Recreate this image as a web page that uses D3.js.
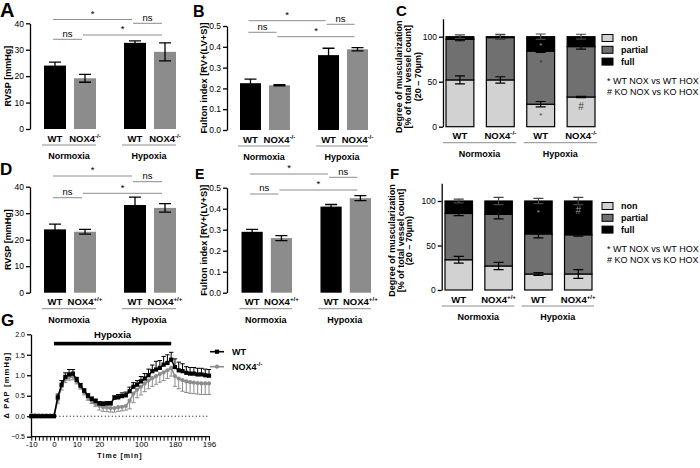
<!DOCTYPE html>
<html>
<head>
<meta charset="utf-8">
<script src="https://cdn.jsdelivr.net/npm/d3@7"></script>
<style>
  body { margin: 0; background: #fff; }
  svg { font-family: 'Liberation Sans', Arial, sans-serif; }
</style>
</head>
<body>
<svg id="fig" width="700" height="468"></svg>
<script>
// ---- data ----
const conditions = ['Normoxia', 'Hypoxia'];
const genotypes = ['WT', 'NOX4'];
const supRow1 = '-/-';
const supRow2 = '+/+';

// bar values are ordered: WT norm, NOX4 norm, WT hyp, NOX4 hyp
const rvspA = [24.0, 19.2, 32.6, 29.2];
const rvspAErr = [1.3, 1.5, 0.75, 3.4];
const fultonB = [0.225, 0.215, 0.36, 0.388];
const fultonBErr = [0.02, 0.003, 0.033, 0.008];
const rvspD = [23.9, 23.0, 33.1, 32.0];
const rvspDErr = [2.0, 0.9, 3.0, 1.6];
const fultonE = [0.29, 0.26, 0.41, 0.45];
const fultonEErr = [0.012, 0.012, 0.01, 0.012];

// comparisons: [bar a, bar b, label]
const sigPairs = [[0, 2, '*'], [2, 3, 'ns'], [0, 1, 'ns'], [1, 3, '*']];

const muscClasses = ['non', 'partial', 'full'];
const muscNonC = [52, 52, 25, 33];
const muscNonCErr = [4.5, 3.5, 3, 0.8];
const muscPartialC = [45, 47, 59, 56];
const muscPartialCErr = [1.5, 1.5, 1.5, 2.7];
const muscFullC = [3, 1, 16, 11];
const muscFullCErr = [2, 2.5, 3, 2.7];
const markersC = [[2, 'full', '*'], [2, 'partial', '*'], [2, 'non', '*'], [3, 'non', '#']];

const muscNonF = [34, 27, 18, 18];
const muscNonFErr = [3.7, 4, 1.5, 5];
const muscPartialF = [52, 58, 45, 44];
const muscPartialFErr = [2.5, 5, 4.5, 1.5];
const muscFullF = [14, 15, 37, 38];
const muscFullFErr = [2, 4, 3, 4];
const markersF = [[2, 'full', '*'], [3, 'full', '#']];

const noteLines = ['* WT NOX vs WT HOX', '# KO NOX vs KO HOX'];

// panel G: time course, one entry per sample point
const timeLabels = {0: '-10', 6: '0', 12: '10', 18: '20', 29: '100', 38: '180', 47: '196'};
const hypoxiaStart = 6, hypoxiaEnd = 37;
const wtPAP = [0, 0, 0, 0, 0, 0, 0,
  0.46, 0.77, 0.96, 1.02, 1.04, 0.89, 0.75, 0.62, 0.5, 0.42,
  0.37, 0.31, 0.3, 0.31, 0.31, 0.45, 0.46, 0.49, 0.51, 0.61,
  0.72, 0.77, 0.85, 0.92, 1.0, 1.1, 1.14, 1.18, 1.26, 1.3,
  1.38, 1.2, 1.12, 1.1, 1.06, 1.04, 1.04, 1.02, 1.02, 1.0, 0.99];
const wtPAPErr = [0.02, 0.02, 0.02, 0.02, 0.02, 0.02, 0.02,
  0.08, 0.1, 0.1, 0.12, 0.1, 0.06, 0.05, 0.05, 0.05, 0.05,
  0.05, 0.05, 0.05, 0.05, 0.05, 0.05, 0.07, 0.08, 0.08, 0.1,
  0.1, 0.1, 0.12, 0.12, 0.15, 0.15, 0.2, 0.18, 0.2, 0.2,
  0.18, 0.2, 0.2, 0.18, 0.15, 0.15, 0.15, 0.15, 0.15, 0.15, 0.15];
const noxPAP = [0.03, 0.03, 0.02, 0.02, 0.02, 0.02, 0.02,
  0.4, 0.72, 0.9, 0.96, 0.97, 0.85, 0.72, 0.58, 0.45, 0.37,
  0.3, 0.25, 0.22, 0.21, 0.2, 0.2, 0.22, 0.23, 0.25, 0.38,
  0.55, 0.65, 0.72, 0.8, 0.87, 0.93, 0.98, 1.03, 1.07, 1.12,
  1.18, 0.98, 0.92, 0.88, 0.85, 0.83, 0.82, 0.81, 0.8, 0.8, 0.8];
const noxPAPErr = [0.04, 0.04, 0.04, 0.04, 0.04, 0.04, 0.04,
  0.08, 0.08, 0.08, 0.08, 0.08, 0.06, 0.06, 0.06, 0.06, 0.06,
  0.06, 0.1, 0.1, 0.1, 0.1, 0.1, 0.1, 0.1, 0.1, 0.2,
  0.22, 0.2, 0.2, 0.2, 0.2, 0.2, 0.2, 0.2, 0.2, 0.2,
  0.2, 0.25, 0.25, 0.27, 0.27, 0.27, 0.27, 0.27, 0.27, 0.27, 0.27];

// ---- drawing ----
const svg = d3.select('#fig');
svg.append('rect').attr('width', 700).attr('height', 468).attr('fill', '#fff');

const GREY = '#8c8c8c';

// text with optional superscript
function label(g, x, y, main, sup, size, bold) {
  const t = g.append('text').attr('x', x).attr('y', y)
    .attr('text-anchor', 'middle').attr('font-size', size)
    .attr('font-weight', bold ? 'bold' : 'normal');
  t.append('tspan').text(main);
  if (sup) t.append('tspan').attr('font-size', size * 0.65).attr('dy', -size * 0.4).text(sup);
  return t;
}

function panelLetter(x, y, ch, size) {
  svg.append('text').attr('x', x).attr('y', y).attr('font-size', size)
    .attr('font-weight', 'bold').text(ch);
}

function styleAxis(sel, size) {
  sel.select('.domain').attr('stroke', '#000').attr('stroke-width', 1.3);
  sel.selectAll('.tick line').attr('stroke', '#000').attr('stroke-width', 1.3);
  sel.selectAll('.tick text').attr('font-size', size).attr('fill', '#000')
    .attr('font-family', "'Liberation Sans', Arial, sans-serif");
}

function barPanel(p) {
  const g = svg.append('g');
  const y = d3.scaleLinear().domain(p.domain).range([p.base, p.top]);
  const xg = d3.scaleBand().domain(conditions).range(p.xr).paddingInner(p.gap);
  const xb = d3.scaleBand().domain(genotypes).range([0, xg.bandwidth()]).paddingInner(p.pad);
  const rows = [];
  conditions.forEach((c, i) => genotypes.forEach((k, j) => {
    const n = i * 2 + j;
    rows.push({ c, k, v: p.values[n], e: p.errs[n], x: xg(c) + xb(k) });
  }));
  const cx = d => d.x + xb.bandwidth() / 2;

  g.selectAll('rect.bar').data(rows).join('rect').attr('class', 'bar')
    .attr('x', d => d.x).attr('width', xb.bandwidth())
    .attr('y', d => y(d.v)).attr('height', d => y(0) - y(d.v))
    .attr('fill', d => d.k === 'WT' ? '#000' : GREY);

  const cap = 6;
  g.selectAll('path.err').data(rows).join('path').attr('class', 'err')
    .attr('d', d => `M${cx(d)},${y(d.v - d.e)}V${y(d.v + d.e)}` +
      `M${cx(d) - cap},${y(d.v + d.e)}h${2 * cap}M${cx(d) - cap},${y(d.v - d.e)}h${2 * cap}`)
    .attr('stroke', '#000').attr('stroke-width', 1.3).attr('fill', 'none');

  const ax = g.append('g').attr('transform', `translate(${p.ax},0)`)
    .call(d3.axisLeft(y).ticks(p.ticks).tickFormat(d3.format(p.fmt)).tickSize(4).tickSizeOuter(0).tickPadding(2));
  styleAxis(ax, 8.5);

  g.append('text')
    .attr('transform', `translate(${p.titleX},${(p.base + p.top) / 2}) rotate(-90)`)
    .attr('text-anchor', 'middle').attr('font-size', p.titleSize).attr('font-weight', 'bold')
    .text(p.title);

  rows.forEach(d => label(g, cx(d), p.base + 12.5, d.k, d.k === 'WT' ? '' : p.sup, 9.5, true));
  conditions.forEach(c => {
    g.append('line').attr('x1', xg(c) - 2).attr('x2', xg(c) + xg.bandwidth())
      .attr('y1', p.base + 16).attr('y2', p.base + 16).attr('stroke', GREY).attr('stroke-width', 1);
    label(g, xg(c) + xg.bandwidth() / 2 - 1, p.base + 30, c, '', 9, true);
  });

  sigPairs.forEach(([a, b, t], i) => {
    const x1 = cx(rows[a]) - 2, x2 = cx(rows[b]) - 3, ly = p.sigY[i];
    g.append('line').attr('x1', x1).attr('x2', x2).attr('y1', ly).attr('y2', ly)
      .attr('stroke', GREY).attr('stroke-width', 1);
    g.append('text').attr('x', (x1 + x2) / 2).attr('y', ly - 2.7)
      .attr('text-anchor', 'middle').attr('font-size', 9.5).text(t);
  });
}

function stackPanel(p) {
  const g = svg.append('g');
  const y = d3.scaleLinear().domain([0, 120]).range([p.base, p.top]);
  const bars = d3.range(4);
  const x = d3.scaleBand().domain(bars).range(p.xr).paddingInner(0.31);
  const table = bars.map(i => ({
    i, non: p.non[i], partial: p.partial[i], full: p.full[i],
    err: { non: p.nonErr[i], partial: p.partialErr[i], full: p.fullErr[i] }
  }));
  const stack = d3.stack().keys(muscClasses)(table);
  const fills = { non: '#d2d2d2', partial: '#707070', full: '#000' };

  stack.forEach(layer => {
    g.selectAll(null).data(layer).join('rect')
      .attr('x', d => x(d.data.i)).attr('width', x.bandwidth())
      .attr('y', d => y(d[1])).attr('height', d => y(d[0]) - y(d[1]))
      .attr('fill', fills[layer.key]).attr('stroke', '#000').attr('stroke-width', 1.2);
  });
  const cap = 5;
  stack.forEach(layer => {
    g.selectAll(null).data(layer).join('path')
      .attr('d', d => {
        const c = x(d.data.i) + x.bandwidth() / 2, e = d.data.err[layer.key];
        return `M${c},${y(d[1] - e)}V${y(d[1] + e)}M${c - cap},${y(d[1] + e)}h${2 * cap}M${c - cap},${y(d[1] - e)}h${2 * cap}`;
      })
      .attr('stroke', layer.key === 'full' ? '#444' : '#000').attr('stroke-width', 1.2).attr('fill', 'none');
  });
  p.markers.forEach(([i, key, sym]) => {
    const layer = stack[muscClasses.indexOf(key)];
    const d = layer[i];
    const h = y(d[0]) - y(d[1]);
    g.append('text').attr('x', x(i) + x.bandwidth() / 2)
      .attr('y', y(d[1]) + Math.min(10, h / 2) + (sym === '*' ? 4 : 3))
      .attr('text-anchor', 'middle').attr('font-size', sym === '*' ? 8 : 10)
      .attr('fill', key === 'full' ? '#999' : (key === 'partial' ? '#333' : '#444')).text(sym);
  });

  const ax = g.append('g').attr('transform', `translate(${p.ax},0)`)
    .call(d3.axisLeft(y).tickValues([0, 50, 100]).tickSize(4).tickSizeOuter(0).tickPadding(2));
  styleAxis(ax, 8.5);

  ['Degree of muscularization', '[% of total vessel count]', '(20 \u2013 70\u00b5m)'].forEach((t, k) => {
    g.append('text')
      .attr('transform', `translate(${p.titleX + k * p.titleGap},${(p.base + p.top) / 2 + 4}) rotate(-90)`)
      .attr('text-anchor', 'middle').attr('font-size', 9).attr('font-weight', 'bold').text(t);
  });

  bars.forEach(i => label(g, x(i) + x.bandwidth() / 2, p.base + 12.5, genotypes[i % 2], i % 2 ? p.sup : '', 9.5, true));
  conditions.forEach((c, k) => {
    const x1 = x(2 * k) - 3, x2 = x(2 * k + 1) + x.bandwidth() + 2;
    g.append('line').attr('x1', x1).attr('x2', x2).attr('y1', p.base + 16).attr('y2', p.base + 16)
      .attr('stroke', GREY).attr('stroke-width', 1);
    label(g, (x1 + x2) / 2, p.base + 30, c, '', 9, true);
  });

  // legend
  muscClasses.forEach((k, j) => {
    const ly = p.legY + j * 11.8;
    g.append('rect').attr('x', p.legX).attr('y', ly - 3.5).attr('width', 11).attr('height', 7)
      .attr('fill', fills[k]).attr('stroke', '#000').attr('stroke-width', 1);
    g.append('text').attr('x', p.legX + 19).attr('y', ly + 3.3).attr('font-size', 9)
      .attr('font-weight', 'bold').text(k);
  });
  noteLines.forEach((t, j) => {
    g.append('text').attr('x', p.legX + 5).attr('y', p.legY + 46 + j * 11.2)
      .attr('font-size', 9).text(t);
  });
}

// ---- row 1 ----
panelLetter(0, 17, 'A', 20);
barPanel({ values: rvspA, errs: rvspAErr, domain: [0, 40], base: 129, top: 23.3, ticks: 4, fmt: 'd',
  xr: [44, 176], gap: 0.35, pad: 0.267, ax: 30, titleX: 10.5, titleSize: 9, title: 'RVSP [mmHg]', sup: supRow1,
  sigY: [19.5, 23.3, 39.3, 35] });

panelLetter(193, 17, 'B', 16);
barPanel({ values: fultonB, errs: fultonBErr, domain: [0, 0.5], base: 130, top: 26, ticks: 5, fmt: '.1f',
  xr: [240, 368], gap: 0.36, pad: 0.276, ax: 227, titleX: 206.5, titleSize: 9.3, title: 'Fulton index  [RV+(LV+S)]', sup: supRow1,
  sigY: [20.7, 24.3, 32.3, 36.7] });

panelLetter(396, 16, 'C', 15);
stackPanel({ non: muscNonC, nonErr: muscNonCErr, partial: muscPartialC, partialErr: muscPartialCErr,
  full: muscFullC, fullErr: muscFullCErr, markers: markersC, base: 126.7, top: 18.7,
  xr: [446, 595], ax: 443, titleX: 401.5, titleGap: 9.8, sup: supRow1, legX: 602, legY: 38 });

// ---- row 2 ----
panelLetter(0, 175, 'D', 17);
barPanel({ values: rvspD, errs: rvspDErr, domain: [0, 40], base: 292.7, top: 186.7, ticks: 4, fmt: 'd',
  xr: [44, 176], gap: 0.35, pad: 0.267, ax: 30, titleX: 10.5, titleSize: 9, title: 'RVSP [mmHg]', sup: supRow2,
  sigY: [176, 181.7, 197.7, 193.3] });

panelLetter(195, 179, 'E', 14);
barPanel({ values: fultonE, errs: fultonEErr, domain: [0, 0.5], base: 292.7, top: 187.7, ticks: 5, fmt: '.1f',
  xr: [241.5, 371], gap: 0.36, pad: 0.276, ax: 227, titleX: 206.5, titleSize: 9.3, title: 'Fulton index [RV+(LV+S)]', sup: supRow2,
  sigY: [174, 177.3, 194, 190] });

panelLetter(390, 179, 'F', 15);
stackPanel({ non: muscNonF, nonErr: muscNonFErr, partial: muscPartialF, partialErr: muscPartialFErr,
  full: muscFullF, fullErr: muscFullFErr, markers: markersF, base: 290, top: 183.2,
  xr: [445, 592], ax: 441.7, titleX: 395, titleGap: 8.6, sup: supRow2, legX: 602, legY: 206 });

// ---- panel G ----
panelLetter(1, 326, 'G', 17);
(function timePanel() {
  const g = svg.append('g');
  const idx = d3.range(wtPAP.length);
  const x = d3.scalePoint().domain(idx).range([31.3, 209]);
  const y = d3.scaleLinear().domain([-0.5, 2.0]).range([436.7, 334.3]);

  const ay = g.append('g').attr('transform', 'translate(31,0)')
    .call(d3.axisLeft(y).tickValues([-0.5, 0, 0.5, 1.0, 1.5, 2.0]).tickFormat(d3.format('.1f'))
      .tickSize(4).tickSizeOuter(0).tickPadding(2));
  styleAxis(ay, 7);
  const axx = g.append('g').attr('transform', `translate(0,${y(-0.5)})`)
    .call(d3.axisBottom(x).tickValues(idx).tickFormat(i => timeLabels[i] || '')
      .tickSize(4).tickSizeOuter(0).tickPadding(1));
  styleAxis(axx, 8);
  axx.selectAll('.tick line').attr('stroke-width', 1);
  axx.select('.domain').attr('d', `M31,0H${x(idx[idx.length - 1]) + 1}`);

  g.append('line').attr('x1', x(0)).attr('x2', x(idx[idx.length - 1])).attr('y1', y(0)).attr('y2', y(0))
    .attr('stroke', '#000').attr('stroke-width', 1).attr('stroke-dasharray', '1,2.5');

  // hypoxia bar
  g.append('rect').attr('x', x(hypoxiaStart)).attr('width', x(hypoxiaEnd) - x(hypoxiaStart))
    .attr('y', 341.8).attr('height', 3.6).attr('fill', '#000');
  g.append('text').attr('x', (x(hypoxiaStart) + x(hypoxiaEnd)) / 2).attr('y', 337.5)
    .attr('text-anchor', 'middle').attr('font-size', 9.5).attr('font-weight', 'bold').text('Hypoxia');

  const series = [
    { v: noxPAP, e: noxPAPErr, col: GREY, dir: -1, shape: 'circle' },
    { v: wtPAP, e: wtPAPErr, col: '#000', dir: 1, shape: 'square' }
  ];
  const line = d3.line().x((d, i) => x(i)).y(d => y(d));
  series.forEach(s => {
    g.selectAll(null).data(s.v).join('path')
      .attr('d', (d, i) => {
        const yy = y(d + s.dir * s.e[i]);
        return `M${x(i)},${y(d)}V${yy}M${x(i) - 2.2},${yy}h4.4`;
      })
      .attr('stroke', s.col).attr('stroke-width', 1).attr('fill', 'none');
  });
  series.forEach(s => {
    g.append('path').datum(s.v).attr('d', line).attr('fill', 'none')
      .attr('stroke', s.col).attr('stroke-width', 1.6);
    if (s.shape === 'square') {
      g.selectAll(null).data(s.v).join('rect')
        .attr('x', (d, i) => x(i) - 2.1).attr('y', d => y(d) - 2.1)
        .attr('width', 4.2).attr('height', 4.2).attr('fill', s.col);
    } else {
      g.selectAll(null).data(s.v).join('circle')
        .attr('cx', (d, i) => x(i)).attr('cy', d => y(d)).attr('r', 2.1).attr('fill', s.col);
    }
  });

  // legend
  const leg = [['WT', '', '#000', 'square', 351.7], ['NOX4', supRow1, GREY, 'circle', 366.7]];
  leg.forEach(([t, sup, col, shape, ly]) => {
    g.append('line').attr('x1', 210).attr('x2', 224).attr('y1', ly).attr('y2', ly)
      .attr('stroke', col).attr('stroke-width', 1.6);
    if (shape === 'square') g.append('rect').attr('x', 214.9).attr('y', ly - 2.1).attr('width', 4.2).attr('height', 4.2).attr('fill', col);
    else g.append('circle').attr('cx', 217).attr('cy', ly).attr('r', 2.1).attr('fill', col);
    const tx = g.append('text').attr('x', 232).attr('y', ly + 3.3).attr('font-size', 9).attr('font-weight', 'bold');
    tx.append('tspan').text(t);
    if (sup) tx.append('tspan').attr('font-size', 6).attr('dy', -3.6).text(sup);
  });

  g.append('text').attr('transform', 'translate(9,385) rotate(-90)')
    .attr('text-anchor', 'middle').attr('font-size', 7.5).attr('font-weight', 'bold')
    .attr('letter-spacing', 1.2).text('\u0394 PAP [mmHg]');
  g.append('text').attr('x', 120).attr('y', 458).attr('text-anchor', 'middle')
    .attr('font-size', 7).attr('font-weight', 'bold').attr('letter-spacing', 1).text('Time [min]');
})();
</script>
</body>
</html>
